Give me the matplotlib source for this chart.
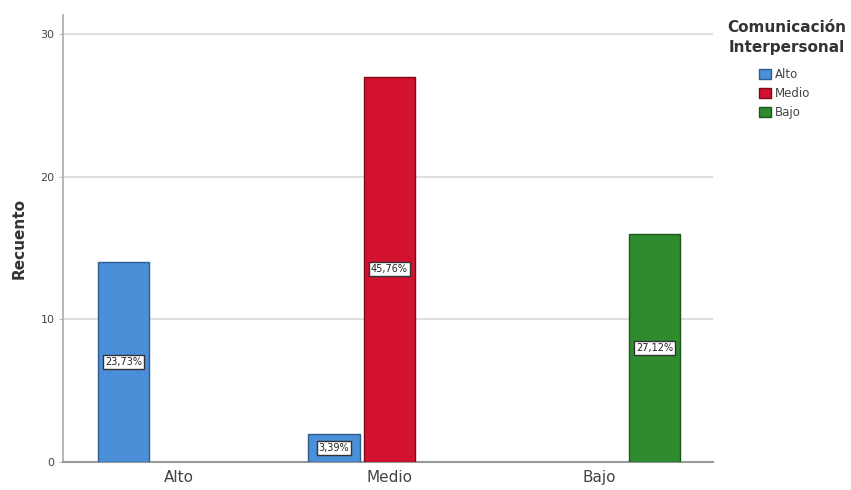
import matplotlib
matplotlib.use("Agg")
import matplotlib.pyplot as plt
from matplotlib.patches import Patch
import numpy as np

categories = ["Alto", "Medio", "Bajo"]
series = ["Alto", "Medio", "Bajo"]
# counts: rows = series, columns = categories
alto_vals = [14, 2, 0]
medio_vals = [0, 27, 0]
bajo_vals = [0, 0, 16]
pct_labels = {
    ("Alto", "Alto"): "23,73%",
    ("Alto", "Medio"): "3,39%",
    ("Medio", "Medio"): "45,76%",
    ("Bajo", "Bajo"): "27,12%",
}
colors = ["#4A8FD8", "#D2122E", "#2E8B2E"]
edges = ["#2F5F8F", "#7A0A1A", "#1B5A1B"]

fig = plt.figure(figsize=(8.51, 4.90), dpi=100)
ax = fig.add_axes([0.074, 0.057, 0.764, 0.912])

x = np.arange(len(categories))
slot = 0.262
width = 0.243
all_vals = [alto_vals, medio_vals, bajo_vals]
for i, (name, vals) in enumerate(zip(series, all_vals)):
    for j, v in enumerate(vals):
        if v <= 0:
            continue
        xpos = x[j] + (i - 1) * slot
        ax.bar(xpos, v, width=width, color=colors[i], edgecolor=edges[i],
               linewidth=1.0, zorder=3)
        lab = pct_labels.get((name, categories[j]))
        if lab:
            ax.text(xpos, v / 2, lab, ha="center", va="center", fontsize=7,
                    color="#222222", zorder=5,
                    bbox=dict(boxstyle="square,pad=0.2", fc="white",
                              ec="#333333", lw=1.0))

ax.set_xlim(-0.55, 2.54)
ax.set_ylim(0, 31.3)
ax.set_yticks([0, 10, 20, 30])
ax.set_yticklabels(["0", "10", "20", "30"], fontsize=8, color="#444444")
ax.set_xticks(x)
ax.set_xticklabels(categories, fontsize=11, color="#444444")
ax.tick_params(axis="x", length=0, pad=6)
ax.tick_params(axis="y", length=3, color="#bbbbbb", pad=3)
ax.grid(axis="y", color="#d8d8d8", linewidth=1.2, zorder=0)
for s in ["top", "right"]:
    ax.spines[s].set_visible(False)
ax.spines["left"].set_color("#aaaaaa")
ax.spines["bottom"].set_color("#999999")
ax.spines["left"].set_linewidth(1.2)
ax.spines["bottom"].set_linewidth(1.5)
ax.set_ylabel("Recuento", fontsize=11, fontweight="bold", color="#333333", labelpad=10)

fig.text(787 / 851, 1 - 37.5 / 490, "Comunicación\nInterpersonal", ha="center",
         va="center", fontsize=11, fontweight="bold", color="#333333",
         multialignment="center", linespacing=1.35)

handles = [Patch(facecolor=c, edgecolor=e, label=s) for c, e, s in zip(colors, edges, series)]
leg = fig.legend(handles=handles, loc="upper left",
                 bbox_to_anchor=(752 / 851, 1 - 61 / 490),
                 frameon=False, fontsize=8.5, handlelength=1.0, handleheight=1.0,
                 handletextpad=0.3, labelspacing=0.5, borderpad=0.1)
for t in leg.get_texts():
    t.set_color("#444444")

fig.savefig("out.png", dpi=100, facecolor="white")
